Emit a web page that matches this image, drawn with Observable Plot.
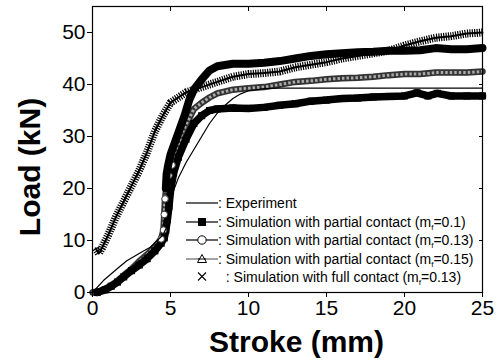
<!DOCTYPE html>
<html><head><meta charset="utf-8">
<script src="https://cdn.jsdelivr.net/npm/d3@7"></script>
<script src="https://cdn.jsdelivr.net/npm/@observablehq/plot@0.6"></script>
<style>
body{margin:0;background:#fff;font-family:"Liberation Sans",Arial,sans-serif}
#wrap{position:relative;width:498px;height:364px}
#legend{position:absolute;left:186px;top:194px;font-size:14px;line-height:18.5px;color:#000}
#legend .row{display:flex;align-items:center;height:18.5px;white-space:nowrap}
#legend svg{width:32px;height:18px;flex:none}
sub{font-size:8px;vertical-align:-3px;line-height:0}
#ylab{position:absolute;left:30px;top:167px;transform:translate(-50%,-50%) rotate(-90deg);font-size:30px;font-weight:bold;white-space:nowrap;line-height:30px}
</style>
</head><body>
<div id="wrap"><div id="chart"></div>
<div id="ylab">Load (kN)</div>
<div id="legend">
 <div class="row"><svg><line x1="0" x2="32" y1="9" y2="9" stroke="#000" stroke-width="1.2"/></svg><span>: Experiment</span></div>
 <div class="row"><svg><line x1="0" x2="32" y1="9" y2="9" stroke="#000" stroke-width="1.2"/><rect x="12" y="5" width="8" height="8" fill="#000"/></svg><span>: Simulation with partial contact (m<sub>f</sub>=0.1)</span></div>
 <div class="row"><svg><line x1="0" x2="32" y1="9" y2="9" stroke="#000" stroke-width="1.2"/><circle cx="16" cy="9" r="4.2" fill="#fff" stroke="#000" stroke-width="1"/></svg><span>: Simulation with partial contact (m<sub>f</sub>=0.13)</span></div>
 <div class="row"><svg><line x1="0" x2="32" y1="9" y2="9" stroke="#666" stroke-width="1.2"/><path d="M16,4.5 L20.5,12.5 L11.5,12.5 Z" fill="#fff" stroke="#000" stroke-width="1"/><line x1="12" x2="20" y1="9" y2="9" stroke="#000" stroke-width="1"/></svg><span>: Simulation with partial contact (m<sub>f</sub>=0.15)</span></div>
 <div class="row"><svg><path d="M12,4.5 L20,12.5 M20,4.5 L12,12.5" stroke="#000" stroke-width="1.1"/></svg><span>&nbsp;&nbsp;: Simulation with full contact (m<sub>f</sub>=0.13)</span></div>
</div>
</div>
<script>
// Experiment
const expStroke = [0,0.7,1.6,2.2,3.1,3.7,4.5,4.75,4.9,5,5.5,6,6.5,7,7.5,8,8.5,9,9.5,10,11,12,15,20,25];
const expLoad   = [0,2.3,4.6,6.1,7.7,8.7,11,12.5,15.5,18,22,25,27.5,30,32.5,34.5,36,37.3,38.2,38.8,39.2,39.3,39.3,39.3,39.3];
// Partial contact mf=0.1 (squares)
const sqStroke = [0.3,0.8,1.2,1.6,2,2.5,3,3.5,4,4.4,4.6,4.7,4.8,4.9,5,5.2,5.5,6,6.5,7,7.5,8,9,10,11,12,13,14,15,16,17,18,19,20,20.8,21.5,22.1,23,24,25];
const sqLoad   = [0,0.5,1.2,2,3,4.2,5.3,6.5,8,9.5,10.5,12,14,16.5,19.5,23,26,29.5,32.5,34,35,35.3,35.5,35.4,35.6,36,36.3,36.8,37,37.3,37.4,37.6,37.7,37.8,38.4,37.8,38.3,37.8,37.8,37.8];
// Partial contact mf=0.13 (circles)
const ciStroke = [0,0.5,1,1.5,2,2.5,3,3.5,4,4.4,4.55,4.6,4.65,4.75,4.9,5.1,5.4,5.8,6.2,6.5,7,7.5,8,9,10,11,12,13,14,15,16,17,18,19,20,21,22,23,24,25];
const ciLoad   = [0,0.3,1,2,3.3,4.5,6,7.3,8.8,10.3,12,15,18,20.5,22.5,24.5,27.5,31,33.5,35.3,36.5,37.5,38.3,39,39.3,39.5,40,40.5,40.7,41,41.2,41.3,41.5,41.8,42,42,42.3,42.3,42.3,42.5];
// Partial contact mf=0.15 (triangles)
const trStroke = [4.7,4.75,4.85,5,5.3,5.6,5.9,6.2,6.5,7,7.5,8,9,10,11,12,13,14,15,16,17,18,19,20,21,22,23,24,25];
const trLoad   = [20,22.8,24.5,26.5,29,31.5,34,37,39,41,42.7,43.5,44,44,44.2,44.5,45,45.5,45.8,46,46.2,46.3,46.5,46.5,46.6,47,46.8,46.8,47];
// Full contact mf=0.13 (crosses)
const fcStroke = [0.2,0.4,0.6,1,1.5,2,2.5,3,3.5,4,4.5,5,5.5,6,6.5,7,8,9,10,11,12,13,14,15,16,17,18,19,20,21,22,23,24,25];
const fcLoad   = [8.5,7.5,8.5,11,14.5,17.5,20.5,23.5,27,31,34,36.5,37.5,38.5,39,39.5,40.5,41.5,42,42.2,42.5,43.3,43.8,44.3,45,45.5,46,46.5,47.5,48.3,49,49.3,49.8,50];

const xTicks = [0,5,10,15,20,25];
const yTicks = [0,10,20,30,40,50];

const toRows = (xs, ys) => xs.map((x, i) => ({x, y: ys[i]}));
const exp = toRows(expStroke, expLoad);
const sq = toRows(sqStroke, sqLoad);
const ci = toRows(ciStroke, ciLoad);
const tr = toRows(trStroke, trLoad);
const fc = toRows(fcStroke, fcLoad);

const font = "Liberation Sans, Arial, sans-serif";
const chart = Plot.plot({
  width: 498, height: 364,
  marginLeft: 92, marginRight: 16, marginTop: 6, marginBottom: 72,
  style: {fontFamily: font, background: "#fff", color: "#000"},
  x: {domain: [0, 25]},
  y: {domain: [0, 55]},
  marks: [
    Plot.line(ci, {x: "x", y: "y", stroke: "#333", strokeWidth: 6.5}),
    Plot.line(ci, {x: "x", y: "y", stroke: "#aaa", strokeWidth: 3, strokeDasharray: "2.5,2", strokeLinecap: "butt"}),
    Plot.line(sq, {x: "x", y: "y", stroke: "#000", strokeWidth: 7.5}),
    Plot.dot(sq, {x: "x", y: "y", symbol: "square", r: 4, fill: "#000"}),
    Plot.dot(ci.filter(d => d.y > 10 && d.y < 25), {x: "x", y: "y", r: 3.3, fill: "#fff", stroke: "#333", strokeWidth: 1}),
    Plot.line(tr, {x: "x", y: "y", stroke: "#000", strokeWidth: 8}),
    Plot.line(fc, {x: "x", y: "y", stroke: "#000", strokeWidth: 8, strokeDasharray: "1.2,1.2", strokeLinecap: "butt", strokeLinejoin: "miter"}),
    Plot.line(fc, {x: "x", y: "y", stroke: "#000", strokeWidth: 2}),
    Plot.line(exp, {x: "x", y: "y", stroke: "#000", strokeWidth: 1.2}),
    Plot.frame({stroke: "#000", strokeWidth: 1.2}),
    Plot.axisX({ticks: xTicks, tickSize: 5, tickPadding: 3, fontSize: 21, label: null, tickFormat: d => d, style: {letterSpacing: "1px"}}),
    Plot.axisX({anchor: "top", ticks: xTicks, tickSize: -4, text: null, label: null}),
    Plot.axisY({ticks: yTicks, tickSize: 5, tickPadding: 2, fontSize: 21, label: null, tickFormat: d => d, style: {letterSpacing: "1.5px"}}),
    Plot.axisY({anchor: "right", ticks: yTicks, tickSize: -4, text: null, label: null}),
    Plot.text(["Stroke (mm)"], {frameAnchor: "bottom", dy: 59, dx: 9, textAnchor: "middle", fontSize: 30, fontWeight: "bold", fontFamily: font})
  ]
});
document.getElementById("chart").append(chart);
</script>
</body></html>
